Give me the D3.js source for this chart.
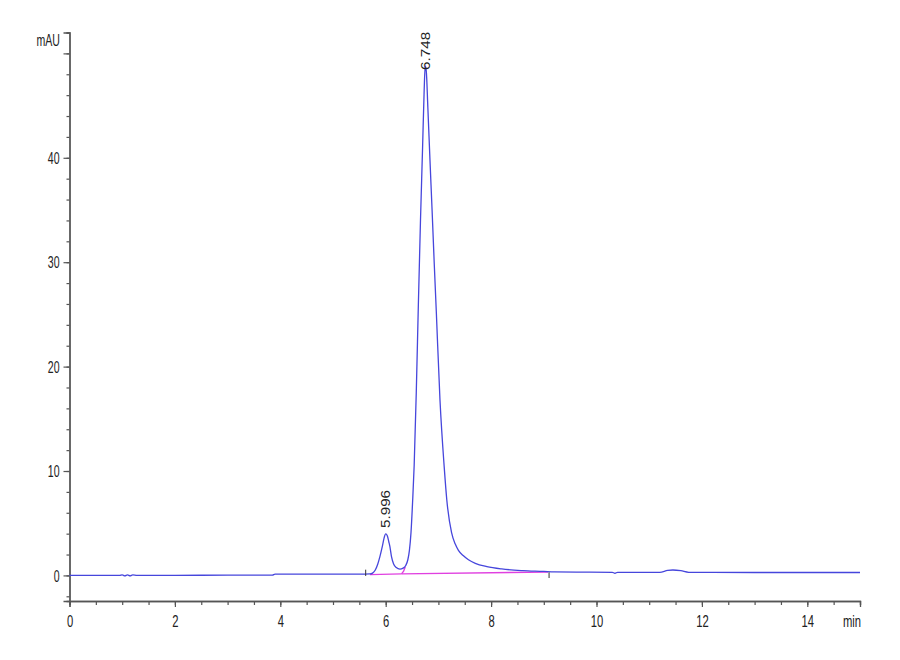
<!DOCTYPE html>
<html>
<head>
<meta charset="utf-8">
<script src="https://cdn.jsdelivr.net/npm/d3@7"></script>
<style>
  body { margin: 0; background: #fff; }
  text { font-family: "Liberation Sans", Arial, sans-serif; fill: #222; }
</style>
</head>
<body>
<div id="chart"></div>
<script>
// signal: retention time (min) and absorbance (mAU)
var timeMin = [0, 0.5, 0.95, 1.0, 1.05, 1.1, 1.15, 1.2, 1.28, 2.0, 3.0, 3.85, 3.9, 4.5, 5.0, 5.5, 5.6,
  5.7, 5.75, 5.8, 5.85, 5.89, 5.935, 5.97, 6.0, 6.03, 6.06, 6.08, 6.11, 6.15, 6.2, 6.27,
  6.33, 6.38, 6.42, 6.45, 6.48, 6.51, 6.54, 6.58, 6.62, 6.66, 6.7, 6.73, 6.75, 6.77, 6.8,
  6.84, 6.88, 6.92, 6.96, 7.03, 7.11, 7.16, 7.25, 7.32, 7.38, 7.47, 7.57, 7.7, 7.92, 8.2,
  8.6, 9.0, 9.2, 10.3, 10.35, 10.4, 11.2, 11.35, 11.45, 11.6, 11.75, 13.0, 15.0];
var absorbance = [0, 0, 0, 0.06, -0.05, 0.06, -0.05, 0.05, 0, 0.01, 0.02, 0.03, 0.12, 0.12, 0.12, 0.13, 0.13,
  0.14, 0.22, 0.5, 1.1, 1.8, 2.75, 3.6, 3.97, 3.8, 3.2, 2.75, 1.8, 1.1, 0.75, 0.6,
  0.7, 0.95, 1.5, 2.4, 4.1, 7.0, 10.5, 17.5, 26.0, 34.0, 41.0, 46.5, 48.8, 48.3, 44.8,
  39.8, 35.0, 30.0, 25.3, 16.8, 10.4, 7.2, 4.1, 3.0, 2.4, 1.9, 1.5, 1.15, 0.84, 0.62,
  0.46, 0.38, 0.33, 0.3, 0.2, 0.3, 0.3, 0.48, 0.52, 0.45, 0.3, 0.28, 0.28];

// integration baselines (magenta)
var baselineTimes = [[5.70, 6.30], [6.30, 6.34, 6.37], [6.30, 9.08]];
var baselineValues = [[0.08, 0.15], [0.15, 0.4, 0.8], [0.15, 0.32]];

// peak start / end markers
var markerTimes = [5.62, 9.1];
var markerFrom = [-0.05, 0.3];
var markerTo = [0.55, -0.25];

// labelled peaks
var peakTimes = [5.996, 6.748];
var peakHeights = [3.97, 48.8];
var peakLabels = ["5.996", "6.748"];

var xMajorTicks = [0, 2, 4, 6, 8, 10, 12, 14];
var yMajorTicks = [0, 10, 20, 30, 40, 50];
var yTickLabels = ["0", "10", "20", "30", "40", ""];

var width = 900, height = 660;

var svg = d3.select("#chart")
  .append("svg")
    .attr("width", width)
    .attr("height", height);

var x = d3.scaleLinear().domain([0, 15]).range([69.5, 860]);
var y = d3.scaleLinear().domain([-2.45, 52]).range([601, 32.5]);

var axisColor = "#555";
var squash = 0.66;

// X axis: minor ticks every 0.5 min, labelled ticks every 2 min
var xMinor = svg.append("g")
    .attr("transform", "translate(0," + y(-2.45) + ")")
    .call(d3.axisBottom(x).tickValues(d3.range(0, 15.01, 0.5)).tickSize(4).tickFormat(""));
var xAxis = svg.append("g")
    .attr("transform", "translate(0," + y(-2.45) + ")")
    .call(d3.axisBottom(x).tickValues(xMajorTicks).tickSize(6).tickFormat(d3.format("d")));
xAxis.selectAll("text")
    .attr("y", 0)
    .attr("dy", 26)
    .style("font-size", "17px")
    .attr("transform", "scale(" + squash + ",1)");

// Y axis: minor ticks every 2 mAU, major every 10
var yMinor = svg.append("g")
    .attr("transform", "translate(" + x(0) + ",0)")
    .call(d3.axisLeft(y).tickValues(d3.range(-2, 52.01, 2)).tickSize(3).tickFormat(""));
var yAxis = svg.append("g")
    .attr("transform", "translate(" + x(0) + ",0)")
    .call(d3.axisLeft(y).tickValues(yMajorTicks).tickSize(6)
      .tickFormat(function(d, i) { return yTickLabels[i]; }));
yAxis.selectAll("text")
    .attr("x", -10 / squash)
    .attr("dy", "0.36em")
    .style("font-size", "16px")
    .attr("transform", "scale(" + squash + ",1)");

svg.selectAll(".domain").attr("stroke", axisColor).attr("stroke-width", 1.3);
svg.selectAll(".tick line").attr("stroke", axisColor).attr("stroke-width", 1.2);

// axis units
svg.append("text")
    .attr("text-anchor", "end")
    .attr("transform", "translate(60,46) scale(" + squash + ",1)")
    .style("font-size", "16px")
    .text("mAU");

svg.append("clipPath").attr("id", "edge")
  .append("rect").attr("x", 0).attr("y", 0).attr("width", 861).attr("height", height);
svg.append("g")
    .attr("clip-path", "url(#edge)")
  .append("text")
    .attr("transform", "translate(843,627) scale(" + squash + ",1)")
    .style("font-size", "17px")
    .text("min");

// chromatogram trace
var trace = timeMin.map(function(t, i) { return [t, absorbance[i]]; });
var line = d3.line()
    .x(function(d) { return x(d[0]); })
    .y(function(d) { return y(d[1]); })
    .curve(d3.curveMonotoneX);

// baselines
baselineTimes.forEach(function(ts, k) {
  var pts = ts.map(function(t, i) { return [t, baselineValues[k][i]]; });
  svg.append("path")
      .datum(pts)
      .attr("fill", "none")
      .attr("stroke", "#e040e0")
      .attr("stroke-width", 1.4)
      .attr("d", d3.line().x(function(d) { return x(d[0]); }).y(function(d) { return y(d[1]); }));
});

svg.append("path")
    .datum(trace)
    .attr("fill", "none")
    .attr("stroke", "#4646dc")
    .attr("stroke-width", 1.3)
    .attr("d", line);

// start/end markers
svg.selectAll(".marker")
    .data(markerTimes)
    .enter().append("line")
    .attr("class", "marker")
    .attr("x1", function(d) { return x(d); })
    .attr("x2", function(d) { return x(d); })
    .attr("y1", function(d, i) { return y(markerFrom[i]); })
    .attr("y2", function(d, i) { return y(markerTo[i]); })
    .attr("stroke", "#333")
    .attr("stroke-width", 1);

// retention time labels
var labelShift = [6, -4];
svg.selectAll(".peaklabel")
    .data(peakTimes)
    .enter().append("text")
    .attr("class", "peaklabel")
    .attr("transform", function(d, i) {
      return "translate(" + (x(d) + 4.5) + "," + (y(peakHeights[i]) - labelShift[i]) + ") rotate(-90) scale(1.17,1)";
    })
    .style("font-size", "13px")
    .text(function(d, i) { return peakLabels[i]; });
</script>
</body>
</html>
